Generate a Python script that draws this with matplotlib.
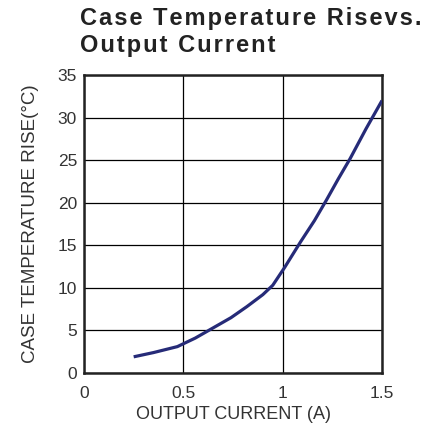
import matplotlib.pyplot as plt

# Curve
current_a = [0.25, 0.35, 0.47, 0.56, 0.65, 0.74, 0.82, 0.90, 0.95, 1.01, 1.09, 1.16, 1.22, 1.28, 1.34, 1.42, 1.50]
temp_rise = [1.9, 2.4, 3.1, 4.1, 5.3, 6.5, 7.8, 9.2, 10.3, 12.4, 15.4, 17.9, 20.3, 22.8, 25.2, 28.7, 32.0]

x_ticks = [0, 0.5, 1, 1.5]
x_tick_labels = ['0', '0.5', '1', '1.5']
y_ticks = [0, 5, 10, 15, 20, 25, 30, 35]

title_lines = ['Case Temperature Risevs.', 'Output Current']

plt.rcParams['font.family'] = ['Liberation Sans', 'DejaVu Sans']

W, H = 441, 433
fig = plt.figure(figsize=(W / 100, H / 100), dpi=100)
ax = fig.add_axes([84 / W, 1 - 373 / H, 298 / W, 298 / H])

ax.plot(current_a, temp_rise, color='#262b78', linewidth=2.3, solid_capstyle='butt', zorder=3)

ax.set_xlim(0, 1.5)
ax.set_ylim(0, 35)
ax.set_xticks(x_ticks)
ax.set_xticklabels(x_tick_labels)
ax.set_yticks(y_ticks)
ax.tick_params(length=0, labelsize=12.5, labelcolor='#333333')
ax.tick_params(axis='x', pad=9)
ax.tick_params(axis='y', pad=5)
ax.grid(True, color='black', linewidth=0.9)
for s in ax.spines.values():
    s.set_linewidth(1.8)
    s.set_color('#222222')

ax.set_xlabel('OUTPUT CURRENT (A)', fontsize=13, color='#333333', labelpad=4)
ax.set_ylabel('CASE TEMPERATURE RISE(°C)', fontsize=13.5, color='#333333', labelpad=13)

# title is letter-spaced in the original, pad with hair spaces
title = '\n'.join('\u200a'.join(line) for line in title_lines)
fig.text(80 / W, 1 - 7 / H, title, fontsize=17, fontweight='bold',
         color='#222222', ha='left', va='top', linespacing=1.2)

fig.savefig('out.png', dpi=100)
